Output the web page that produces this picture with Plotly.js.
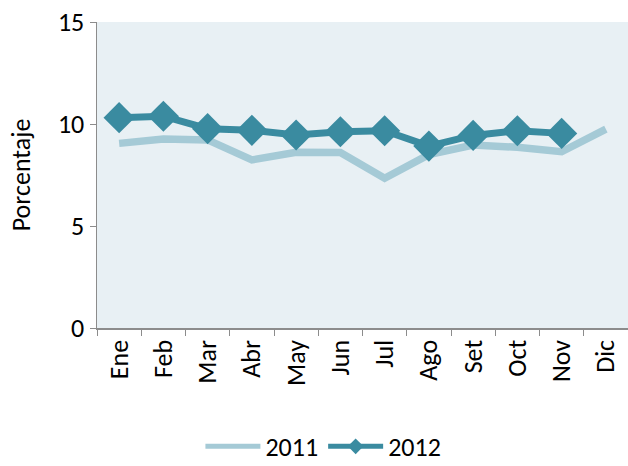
<!DOCTYPE html>
<html><head><meta charset="utf-8">
<script src="https://cdn.plot.ly/plotly-3.0.1.min.js"></script>
<style>html,body{margin:0;padding:0;background:#fff;}#chart{width:628px;height:466px;}</style>
</head><body><div id="chart"></div>
<script>
var months = ["Ene","Feb","Mar","Abr","May","Jun","Jul","Ago","Set","Oct","Nov","Dic"];
var values2011 = [9.05,9.26,9.22,8.24,8.61,8.6,7.34,8.5,8.97,8.86,8.64,9.75];
var months2012 = ["Ene","Feb","Mar","Abr","May","Jun","Jul","Ago","Set","Oct","Nov"];
var values2012 = [10.31,10.38,9.77,9.69,9.46,9.62,9.67,8.92,9.44,9.67,9.54];
var yTicks = [0,5,10,15];

var font = "Carlito, Calibri, 'Open Sans', sans-serif";
var traces = [
  {x: months, y: values2011, name: "2011", type: "scatter", mode: "lines",
   line: {color: "#a5cad6", width: 7.5}},
  {x: months2012, y: values2012, name: "2012", type: "scatter", mode: "lines+markers",
   line: {color: "#3a8ba0", width: 7},
   marker: {symbol: "diamond", size: 24, color: "#3a8ba0"}}
];
var layout = {
  width: 628, height: 466,
  margin: {l: 97, r: 0, t: 22, b: 138},
  paper_bgcolor: "#ffffff", plot_bgcolor: "#e8f0f4",
  font: {family: font, size: 26, color: "#000"},
  showlegend: true,
  legend: {orientation: "h", xref: "container", x: 0.515, xanchor: "center",
           yref: "container", y: 0.042, yanchor: "middle",
           font: {size: 26}, traceorder: "normal", itemwidth: 55, itemsizing: "constant"},
  xaxis: {type: "category", categoryorder: "array", categoryarray: months,
          tickangle: -90, showline: true, linecolor: "#8c8c8c", linewidth: 1.5,
          ticks: "outside", tickson: "boundaries", ticklen: 6, tickcolor: "#8c8c8c",
          showgrid: false, zeroline: false, range: [-0.5, 11.5], automargin: false,
          tickfont: {size: 26}},
  yaxis: {range: [0, 15], tickvals: yTicks, showline: true, linecolor: "#8c8c8c", linewidth: 1.5,
          ticks: "outside", ticklen: 6, tickcolor: "#8c8c8c", showgrid: false, zeroline: false,
          automargin: false,
          title: {text: "Porcentaje", font: {size: 26}, standoff: 20},
          tickfont: {size: 26}}
};
Plotly.newPlot("chart", traces, layout, {displayModeBar: false, staticPlot: true});
</script></body></html>
